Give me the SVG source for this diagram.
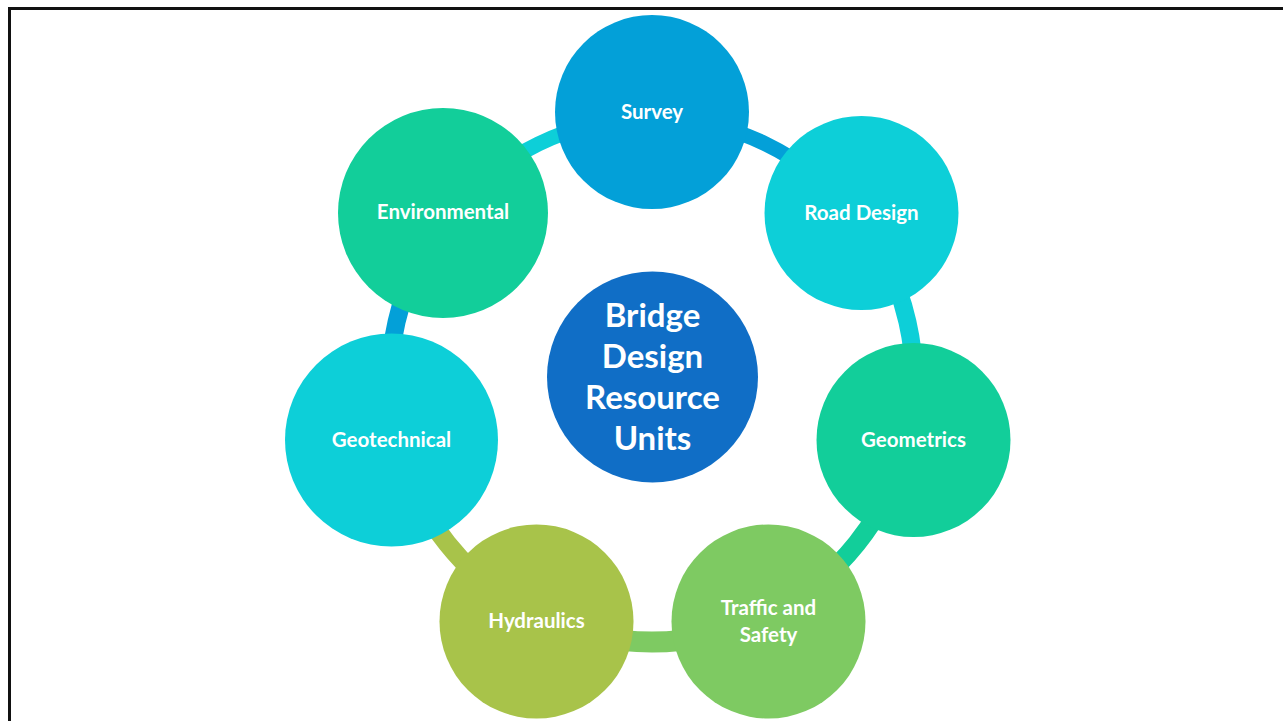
<svg xmlns="http://www.w3.org/2000/svg" width="1283" height="721" viewBox="0 0 1283 721">
<style>
.lbl{font-family:Lato,"Open Sans","Liberation Sans",sans-serif;font-weight:bold;fill:#fff;text-anchor:middle;dominant-baseline:central;font-size:20.5px}
.ctr{font-family:Lato,"Open Sans","Liberation Sans",sans-serif;font-weight:bold;fill:#fff;text-anchor:middle;dominant-baseline:central;font-size:33px}
.seg{fill:none}
</style>
<rect x="0" y="0" width="1283" height="721" fill="#fff"/>
<rect x="9.5" y="8.5" width="1300" height="740" fill="none" stroke="#111" stroke-width="3"/>
<g id="connectors">
<path class="seg" d="M447.2,216.6 A262,262 0 0 1 652,118" stroke="#0DCFD8" stroke-width="15"/>
<path class="seg" d="M652,118 A262,262 0 0 1 856.8,216.6" stroke="#03A0D8" stroke-width="15"/>
<path class="seg" d="M856.8,216.6 A262,262 0 0 1 907.4,438.3" stroke="#0DCFD8" stroke-width="18"/>
<path class="seg" d="M907.4,438.3 A262,262 0 0 1 765.7,616.1" stroke="#12CE9A" stroke-width="19"/>
<path class="seg" d="M765.7,616.1 A262,262 0 0 1 538.3,616.1" stroke="#7ECA62" stroke-width="21"/>
<path class="seg" d="M538.3,616.1 A262,262 0 0 1 396.6,438.3" stroke="#A8C34A" stroke-width="19"/>
<path class="seg" d="M396.6,438.3 A262,262 0 0 1 447.2,216.6" stroke="#03A0D8" stroke-width="18"/>
</g>
<g id="center">
<circle cx="652.5" cy="377" r="105.5" fill="#106EC6"/>
<text class="ctr" x="652.5" y="314">Bridge</text>
<text class="ctr" x="652.5" y="355">Design</text>
<text class="ctr" x="652.5" y="396">Resource</text>
<text class="ctr" x="652.5" y="437">Units</text>
</g>
<g id="survey">
<circle cx="652" cy="112" r="97" fill="#03A0D8"/>
<text class="lbl" x="652" y="111">Survey</text>
</g>
<g id="road-design">
<circle cx="861.5" cy="213" r="97" fill="#0DCFD8"/>
<text class="lbl" x="861.5" y="212">Road Design</text>
</g>
<g id="geometrics">
<circle cx="913.5" cy="440" r="97" fill="#12CE9A"/>
<text class="lbl" x="913.5" y="439">Geometrics</text>
</g>
<g id="traffic">
<circle cx="768.5" cy="621.5" r="97" fill="#7ECA62"/>
<text class="lbl" x="768.5" y="606.5">Traffic and</text>
<text class="lbl" x="768.5" y="633.5">Safety</text>
</g>
<g id="hydraulics">
<circle cx="536.5" cy="621.5" r="97" fill="#A8C34A"/>
<text class="lbl" x="536.5" y="620">Hydraulics</text>
</g>
<g id="geotechnical">
<circle cx="391.5" cy="440" r="106.5" fill="#0DCFD8"/>
<text class="lbl" x="391.5" y="439">Geotechnical</text>
</g>
<g id="environmental">
<circle cx="443" cy="213" r="105" fill="#12CE9A"/>
<text class="lbl" x="443" y="211">Environmental</text>
</g>
</svg>
